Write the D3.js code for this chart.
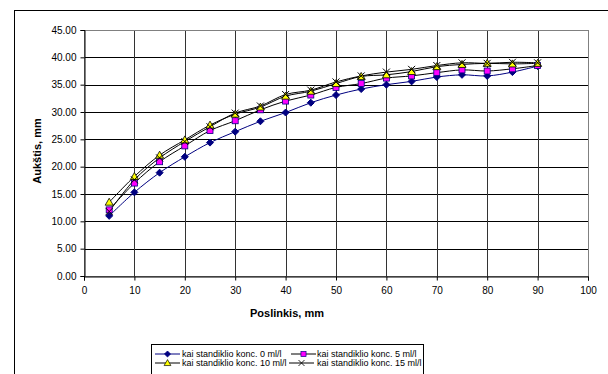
<!DOCTYPE html>
<html>
<head>
<meta charset="utf-8">
<script src="https://cdn.jsdelivr.net/npm/d3@7"></script>
<style>
  body { margin: 0; background: #fff; }
  svg { display: block; font-family: "Liberation Sans", Arial, sans-serif; }
</style>
</head>
<body>
<svg width="608" height="374"></svg>
<script>
const xValues = [5, 10, 15, 20, 25, 30, 35, 40, 45, 50, 55, 60, 65, 70, 75, 80, 85, 90];
const conc0 = [11.0, 15.3, 18.9, 21.8, 24.4, 26.4, 28.3, 29.9, 31.7, 33.1, 34.2, 35.0, 35.6, 36.4, 36.8, 36.6, 37.3, 38.4];
const conc5 = [12.1, 17.0, 20.9, 23.8, 26.6, 28.4, 30.4, 32.0, 33.1, 34.5, 35.2, 36.2, 36.6, 37.2, 37.7, 37.5, 37.9, 38.5];
const conc10 = [13.5, 18.2, 22.1, 24.9, 27.6, 29.6, 30.9, 32.9, 33.8, 35.2, 36.5, 36.8, 37.4, 38.3, 38.7, 38.9, 38.8, 38.9];
const conc15 = [11.8, 17.6, 21.6, 24.6, 27.3, 29.8, 31.1, 33.2, 34.0, 35.5, 36.6, 37.3, 37.8, 38.5, 39.0, 38.9, 39.1, 39.0];
const seriesNames = ["kai standiklio konc. 0 ml/l", "kai standiklio konc. 5 ml/l",
                     "kai standiklio konc. 10 ml/l", "kai standiklio konc. 15 ml/l"];
const xTicks = [0, 10, 20, 30, 40, 50, 60, 70, 80, 90, 100];
const yTicks = [0, 5, 10, 15, 20, 25, 30, 35, 40, 45];

function draw() {
  const svg = d3.select("svg");

  const left = 84, right = 588, top = 30, bottom = 276;

  // outer chart frame (runs off the picture to the right and bottom)
  svg.append("rect")
    .attr("x", 14.5).attr("y", 10.5)
    .attr("width", 640).attr("height", 420)
    .attr("fill", "#fff").attr("stroke", "#000");

  const x = d3.scaleLinear().domain([0, 100]).range([left, right]);
  const y = d3.scaleLinear().domain([0, 45]).range([bottom, top]);

  // gridlines
  svg.append("g").selectAll("line").data(yTicks).join("line")
    .attr("x1", left).attr("x2", right)
    .attr("y1", d => Math.round(y(d)) + 0.5).attr("y2", d => Math.round(y(d)) + 0.5)
    .attr("stroke", "#000");
  svg.append("g").selectAll("line").data(xTicks.slice(1)).join("line")
    .attr("x1", d => Math.round(x(d)) + 0.5).attr("x2", d => Math.round(x(d)) + 0.5)
    .attr("y1", top).attr("y2", bottom)
    .attr("stroke", "#333");

  // plot area border
  svg.append("rect")
    .attr("x", left + 0.5).attr("y", top + 0.5)
    .attr("width", right - left).attr("height", bottom - top)
    .attr("fill", "none").attr("stroke", "#808080");

  // axes
  const yAxis = svg.append("g")
    .attr("transform", `translate(${left + 0.5},0)`)
    .call(d3.axisLeft(y).tickValues(yTicks).tickFormat(d3.format(".2f")).tickSizeOuter(0).tickSize(4).tickPadding(4));
  const xAxis = svg.append("g")
    .attr("transform", `translate(0,${bottom + 0.5})`)
    .call(d3.axisBottom(x).tickValues(xTicks).tickSizeOuter(0).tickSize(4).tickPadding(6));
  [xAxis, yAxis].forEach(a => {
    a.select(".domain").attr("stroke", "#000");
    a.selectAll(".tick line").attr("stroke", "#000");
    a.selectAll("text").attr("font-size", 10).attr("fill", "#000")
      .attr("font-family", "Liberation Sans, Arial, sans-serif");
  });

  // axis titles
  svg.append("text")
    .attr("x", 287).attr("y", 317)
    .attr("text-anchor", "middle")
    .attr("font-size", 11).attr("font-weight", "bold")
    .text("Poslinkis, mm");
  svg.append("text")
    .attr("transform", `translate(41,151) rotate(-90)`)
    .attr("text-anchor", "middle")
    .attr("font-size", 11).attr("font-weight", "bold")
    .text("Aukštis, mm");

  const series = [
    { name: seriesNames[0], values: conc0, line: "#000080", marker: "diamond" },
    { name: seriesNames[1], values: conc5, line: "#000", marker: "square" },
    { name: seriesNames[2], values: conc10, line: "#000", marker: "triangle" },
    { name: seriesNames[3], values: conc15, line: "#000", marker: "cross" }
  ];

  function drawMarker(g, type) {
    if (type === "diamond") {
      g.append("path").attr("d", "M0,-3.5L3.5,0L0,3.5L-3.5,0Z")
        .attr("fill", "#000080").attr("stroke", "#000080");
    } else if (type === "square") {
      g.append("rect").attr("x", -3).attr("y", -3).attr("width", 6).attr("height", 6)
        .attr("fill", "#ff00ff").attr("stroke", "#000080").attr("stroke-width", 0.8);
    } else if (type === "triangle") {
      g.append("path").attr("d", "M0,-4L4,3L-4,3Z")
        .attr("fill", "#ffff00").attr("stroke", "#000").attr("stroke-width", 0.8);
    } else {
      g.append("path").attr("d", "M-3.5,-3.5L3.5,3.5M-3.5,3.5L3.5,-3.5")
        .attr("stroke", "#000").attr("stroke-width", 1);
    }
  }

  const line = d3.line()
    .x((d, i) => x(xValues[i]))
    .y(d => y(d))
    .curve(d3.curveCatmullRom.alpha(0.5));

  series.forEach(s => {
    svg.append("path")
      .attr("d", line(s.values))
      .attr("fill", "none")
      .attr("stroke", s.line)
      .attr("stroke-width", 1);
  });
  // markers drawn in series order, after lines
  series.forEach(s => {
    s.values.forEach((v, i) => {
      const g = svg.append("g").attr("transform", `translate(${x(xValues[i])},${y(v)})`);
      drawMarker(g, s.marker);
    });
  });

  // legend
  svg.append("rect")
    .attr("x", 151.5).attr("y", 344.5)
    .attr("width", 272).attr("height", 40)
    .attr("fill", "#fff").attr("stroke", "#000");
  series.forEach((s, i) => {
    const col = i % 2, row = Math.floor(i / 2);
    const ly = 354 + row * 9;
    const lineX = col === 0 ? 155 : (row === 0 ? 291 : 289);
    const g = svg.append("g");
    g.append("line")
      .attr("x1", lineX).attr("x2", lineX + 25)
      .attr("y1", ly).attr("y2", ly)
      .attr("stroke", s.line);
    const m = g.append("g").attr("transform", `translate(${lineX + 12.5},${ly}) scale(0.85)`);
    drawMarker(m, s.marker);
    g.append("text")
      .attr("x", col === 0 ? 182 : 317)
      .attr("y", ly + 3.2)
      .attr("font-size", 9)
      .text(s.name);
  });
}

window.onload = draw;
</script>
</body>
</html>
